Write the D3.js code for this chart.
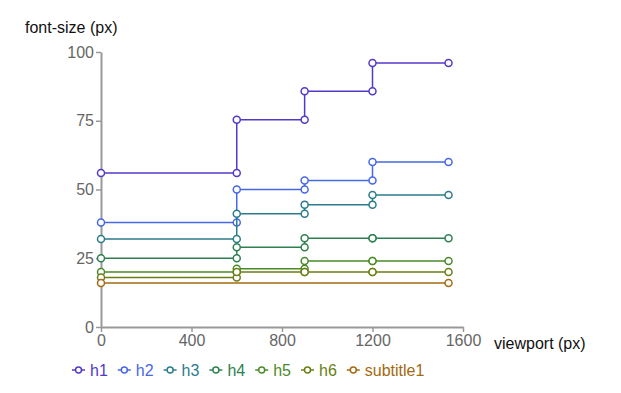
<!DOCTYPE html>
<html>
<head>
<meta charset="utf-8">
<script src="https://cdn.jsdelivr.net/npm/d3@7"></script>
<style>
  body { margin: 0; background: #fff; }
  svg { font-family: "Liberation Sans", Arial, sans-serif; }
</style>
</head>
<body>
<svg id="chart" width="621" height="393"></svg>
<script>
const names = ["h1", "h2", "h3", "h4", "h5", "h6", "subtitle1"];
const colors = ["#5439c9", "#4767e6", "#2b7c8c", "#2e8050", "#4b8a2a", "#6b7e14", "#a36a10"];

// viewport breakpoints (px)
const stepX = [0, 600, 600, 900, 900, 1200, 1200, 1536];
const h1 = [56, 56, 75.4, 75.4, 85.7, 85.7, 96, 96];
const h2 = [38, 38, 50, 50, 53.3, 53.3, 60, 60];
const h3 = [32, 32, 41.2, 41.2, 44.5, 44.5, 48, 48];
const h4 = [25, 25, 29, 29, 32.3, 32.3, 32.3, 32.3];
const h5 = [20, 20, 21.2, 21.2, 24, 24, 24, 24];
const h6 = [18, 18, 20, 20, 20, 20, 20, 20];
const subtitleX = [0, 1536];
const subtitle1 = [16, 16];

const xTicks = [0, 400, 800, 1200, 1600];
const yTicks = [0, 25, 50, 75, 100];

const series = [
  { name: "h1", xs: stepX, ys: h1 },
  { name: "h2", xs: stepX, ys: h2 },
  { name: "h3", xs: stepX, ys: h3 },
  { name: "h4", xs: stepX, ys: h4 },
  { name: "h5", xs: stepX, ys: h5 },
  { name: "h6", xs: stepX, ys: h6 },
  { name: "subtitle1", xs: subtitleX, ys: subtitle1 }
].map(s => ({ name: s.name, points: s.xs.map((x, i) => ({ x: x, y: s.ys[i] })) }));

const svg = d3.select("#chart");

const x = d3.scaleLinear().domain([0, 1600]).range([101, 463]);
const y = d3.scaleLinear().domain([0, 100]).range([327, 52]);
const color = d3.scaleOrdinal().domain(names).range(colors);

// axes
const xAxis = svg.append("g")
  .attr("transform", `translate(0,${y(0)})`)
  .call(d3.axisBottom(x).tickValues(xTicks).tickFormat(d3.format("d"))
    .tickSize(5).tickPadding(3).tickSizeOuter(0));
const yAxis = svg.append("g")
  .attr("transform", `translate(${x(0)},0)`)
  .call(d3.axisLeft(y).tickValues(yTicks).tickFormat(d3.format("d"))
    .tickSize(5).tickPadding(2).tickSizeOuter(0));

[xAxis, yAxis].forEach(g => {
  g.select(".domain").attr("stroke", "#999").attr("stroke-width", 2);
  g.selectAll(".tick line").attr("stroke", "#999").attr("stroke-width", 1.5);
  g.selectAll(".tick text").attr("fill", "#666").attr("font-size", 16)
    .attr("font-family", "Liberation Sans, Arial, sans-serif");
});

svg.append("text")
  .attr("x", 25).attr("y", 33)
  .attr("font-size", 16).attr("fill", "#111")
  .text("font-size (px)");

svg.append("text")
  .attr("x", 494).attr("y", 349)
  .attr("font-size", 16).attr("fill", "#111")
  .text("viewport (px)");

// lines
const line = d3.line().x(d => x(d.x)).y(d => y(d.y));

const groups = svg.append("g")
  .selectAll("g")
  .data(series)
  .join("g");

groups.append("path")
  .attr("d", d => line(d.points))
  .attr("fill", "none")
  .attr("stroke", d => color(d.name))
  .attr("stroke-width", 1.5);

groups.selectAll("circle")
  .data(d => d.points.map(p => ({ ...p, name: d.name })))
  .join("circle")
  .attr("cx", d => x(d.x))
  .attr("cy", d => y(d.y))
  .attr("r", 3.5)
  .attr("fill", "#fff")
  .attr("stroke", d => color(d.name))
  .attr("stroke-width", 1.5);

// legend
const legend = svg.append("g").attr("transform", "translate(72,370)");
let lx = 0;
names.forEach(n => {
  const item = legend.append("g").attr("transform", `translate(${lx},0)`);
  item.append("line")
    .attr("x1", 0).attr("x2", 13)
    .attr("stroke", color(n)).attr("stroke-width", 1.5);
  item.append("circle")
    .attr("cx", 6.5).attr("r", 3)
    .attr("fill", "#fff").attr("stroke", color(n)).attr("stroke-width", 1.5);
  const t = item.append("text")
    .attr("x", 18).attr("dy", "0.35em")
    .attr("font-size", 16).attr("fill", color(n))
    .text(n);
  lx += 18 + t.node().getComputedTextLength() + 10;
});
</script>
</body>
</html>
